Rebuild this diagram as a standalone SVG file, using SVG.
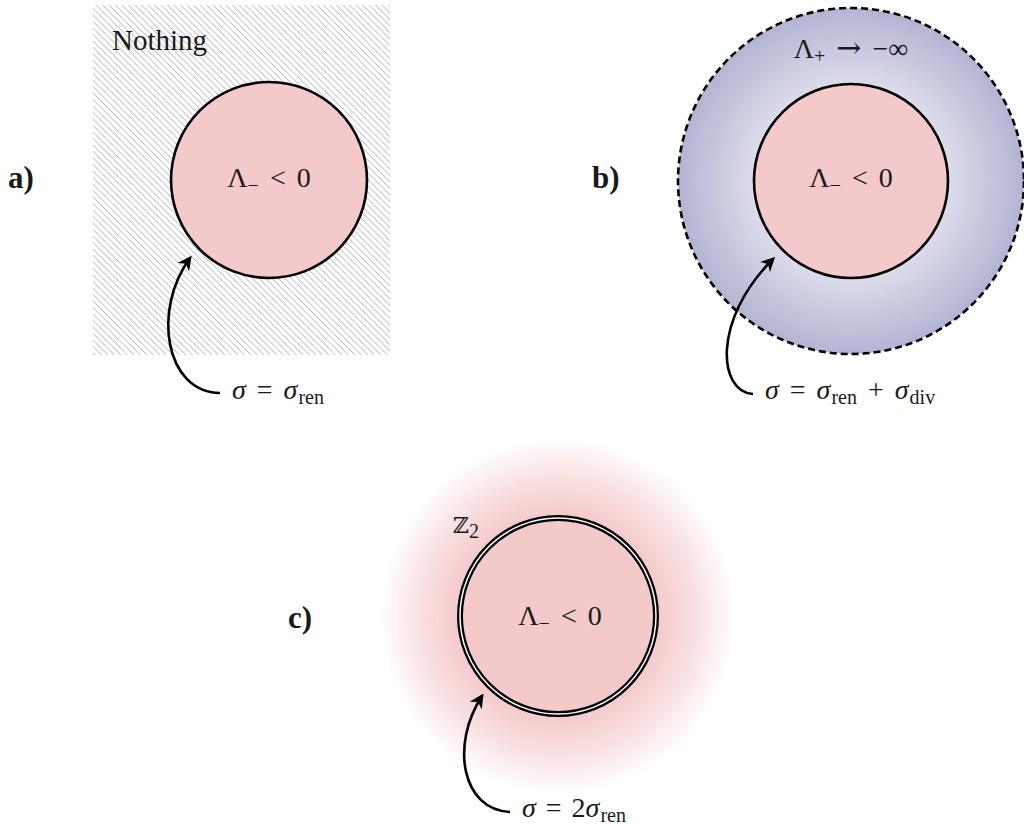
<svg xmlns="http://www.w3.org/2000/svg" width="1024" height="825" viewBox="0 0 1024 825">
<style>
text{font-family:"Liberation Serif","DejaVu Serif",serif;fill:#1a1a1a}
.lab{font-size:28px}
.pan{font-size:31px;font-weight:bold}
.it{font-style:italic}
.sub{font-size:20px}
.circ{fill:#f4c9ca;stroke:#000;stroke-width:2.6}
.arr{fill:none;stroke:#000;stroke-width:2.6;marker-end:url(#ah)}
</style>
<defs>
<pattern id="hatch" patternUnits="userSpaceOnUse" width="6.5" height="6.5">
<path d="M-1,-1 L7.5,7.5 M-1,5.5 L1,7.5 M5.5,-1 L7.5,1" stroke="#959595" stroke-width="0.75"/>
</pattern>
<radialGradient id="blue" cx="851" cy="181" r="173" gradientUnits="userSpaceOnUse">
<stop offset="0" stop-color="#dedeed"/>
<stop offset="0.56" stop-color="#dcdcec"/>
<stop offset="1" stop-color="#b3b4d2"/>
</radialGradient>
<radialGradient id="glow" cx="558" cy="616" r="178" gradientUnits="userSpaceOnUse">
<stop offset="0" stop-color="#f4c9ca"/>
<stop offset="0.55" stop-color="#f4c9ca"/>
<stop offset="0.78" stop-color="#f4c9ca" stop-opacity="0.55"/>
<stop offset="1" stop-color="#f4c9ca" stop-opacity="0"/>
</radialGradient>
<marker id="ah" viewBox="0 0 10 10" refX="8" refY="5" markerWidth="5.5" markerHeight="5.5" orient="auto" markerUnits="strokeWidth">
<path d="M0,0 L10,5 L0,10 L3,5 Z" fill="#000"/>
</marker>
</defs>

<g id="panel-a">
<rect x="93" y="5" width="297" height="350" fill="url(#hatch)"/>
<text x="112" y="50" font-size="29">Nothing</text>
<circle cx="269" cy="180" r="98" class="circ"/>
<text x="269" y="187" class="lab" text-anchor="middle">Λ<tspan class="sub" dy="5">−</tspan><tspan dy="-5" dx="11">&lt;</tspan><tspan dx="11">0</tspan></text>
<text x="8" y="188" class="pan">a)</text>
<text x="232" y="399" class="lab"><tspan class="it">σ</tspan><tspan dx="11">=</tspan><tspan dx="11" class="it">σ</tspan><tspan class="sub" dy="5" dx="1">ren</tspan></text>
</g>

<g id="panel-b">
<circle cx="851" cy="181" r="173" fill="url(#blue)" stroke="#000" stroke-width="2.6" stroke-dasharray="7,4"/>
<text x="851" y="58" class="lab" text-anchor="middle">Λ<tspan class="sub" dy="5">+</tspan><tspan dy="-5" dx="11" font-family="DejaVu Serif" font-size="30">→</tspan><tspan dx="11">−∞</tspan></text>
<circle cx="851" cy="181" r="97" class="circ"/>
<text x="851" y="187" class="lab" text-anchor="middle">Λ<tspan class="sub" dy="5">−</tspan><tspan dy="-5" dx="11">&lt;</tspan><tspan dx="11">0</tspan></text>
<text x="592" y="188" class="pan">b)</text>
<text x="765" y="399" class="lab"><tspan class="it">σ</tspan><tspan dx="11">=</tspan><tspan dx="11" class="it">σ</tspan><tspan class="sub" dy="5" dx="1">ren</tspan><tspan dy="-5" dx="11">+</tspan><tspan dx="11" class="it">σ</tspan><tspan class="sub" dy="5" dx="1">div</tspan></text>
</g>

<g id="panel-c">
<circle cx="558" cy="616" r="178" fill="url(#glow)"/>
<circle cx="558" cy="616" r="98" fill="#f4c9ca" stroke="#000" stroke-width="6"/>
<circle cx="558" cy="616" r="98" fill="none" stroke="#fff" stroke-width="1.5"/>
<text x="560" y="625" class="lab" text-anchor="middle">Λ<tspan class="sub" dy="5">−</tspan><tspan dy="-5" dx="11">&lt;</tspan><tspan dx="11">0</tspan></text>
<text x="453" y="533" class="lab"><tspan font-family="DejaVu Serif" font-size="22">ℤ</tspan><tspan class="sub" dy="5">2</tspan></text>
<text x="288" y="628" class="pan">c)</text>
<text x="522" y="817" class="lab"><tspan class="it">σ</tspan><tspan dx="10">=</tspan><tspan dx="10">2</tspan><tspan class="it">σ</tspan><tspan class="sub" dy="5" dx="1">ren</tspan></text>
</g>

<g id="connectors">
<path class="arr" d="M220,393 C165,392 152,310 190,258"/>
<path class="arr" d="M753,394 C718,392 712,320 773,259"/>
<path class="arr" d="M510,812 C462,810 450,745 482,696"/>
</g>
</svg>
